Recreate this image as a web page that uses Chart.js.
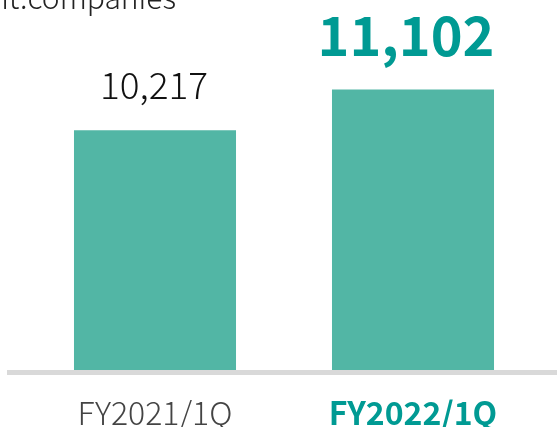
<!DOCTYPE html>
<html>
<head>
<meta charset="utf-8">
<script src="https://cdn.jsdelivr.net/npm/chart.js@4"></script>
<style>
  html, body { margin: 0; padding: 0; background: #fff; }
  #wrap { width: 557px; height: 427px; position: relative; }
</style>
</head>
<body>
<div id="wrap"><canvas id="companiesChart"></canvas></div>
<script>
const periods = ['FY2021/1Q', 'FY2022/1Q'];
const companies = [10217, 11102];
const unitLabel = 'Unit:companies';

const FONT = '"Noto Sans CJK JP", "Noto Sans", sans-serif';
const TEAL = '#009a93';

// value labels above each bar, last one highlighted
const valueLabels = {
    id: 'valueLabels',
    afterDatasetsDraw(chart) {
        const ctx = chart.ctx;
        const bars = chart.getDatasetMeta(0).data;
        ctx.save();
        ctx.textAlign = 'center';
        ctx.textBaseline = 'alphabetic';
        bars.forEach((bar, i) => {
            const last = i === bars.length - 1;
            ctx.font = (last ? 'bold 54px ' : '300 37px ') + FONT;
            ctx.fillStyle = last ? TEAL : '#111';
            ctx.fillText(companies[i].toLocaleString('en-US'), bar.x - (last ? 7 : 1), bar.y - (last ? 34 : 31));
        });
        // unit text, cut off at the top-left like the source
        ctx.textAlign = 'right';
        ctx.font = '300 30px ' + FONT;
        ctx.fillStyle = '#222';
        ctx.fillText(unitLabel, 176, 9);
        ctx.restore();
    }
};

// grey baseline running across the whole width
const baseline = {
    id: 'baseline',
    beforeDatasetsDraw(chart) {
        const ctx = chart.ctx;
        const y = chart.scales.y.getPixelForValue(chart.scales.y.min) + 2.5;
        ctx.save();
        ctx.strokeStyle = '#d9d9d9';
        ctx.lineWidth = 5;
        ctx.beginPath();
        ctx.moveTo(7, y);
        ctx.lineTo(chart.width, y);
        ctx.stroke();
        ctx.restore();
    }
};

new Chart(document.getElementById('companiesChart'), {
    type: 'bar',
    data: {
        labels: periods,
        datasets: [{
            data: companies,
            backgroundColor: '#52b6a5',
            borderWidth: 0,
            barPercentage: 0.628,
            categoryPercentage: 1
        }]
    },
    options: {
        responsive: true,
        maintainAspectRatio: false,
        animation: false,
        layout: { padding: { left: 26, right: 15, top: 0, bottom: 0 } },
        plugins: {
            legend: { display: false },
            tooltip: { enabled: false }
        },
        scales: {
            x: {
                grid: { display: false },
                border: { display: false },
                afterFit(scale) { scale.height = 57; },
                ticks: {
                    padding: 16,
                    color: c => c.index === 1 ? TEAL : '#444',
                    font: c => ({
                        family: FONT,
                        size: 32,
                        weight: c.index === 1 ? 'bold' : '300'
                    })
                }
            },
            y: {
                display: false,
                min: 5000,
                max: 13050
            }
        }
    },
    plugins: [baseline, valueLabels]
});
</script>
</body>
</html>
